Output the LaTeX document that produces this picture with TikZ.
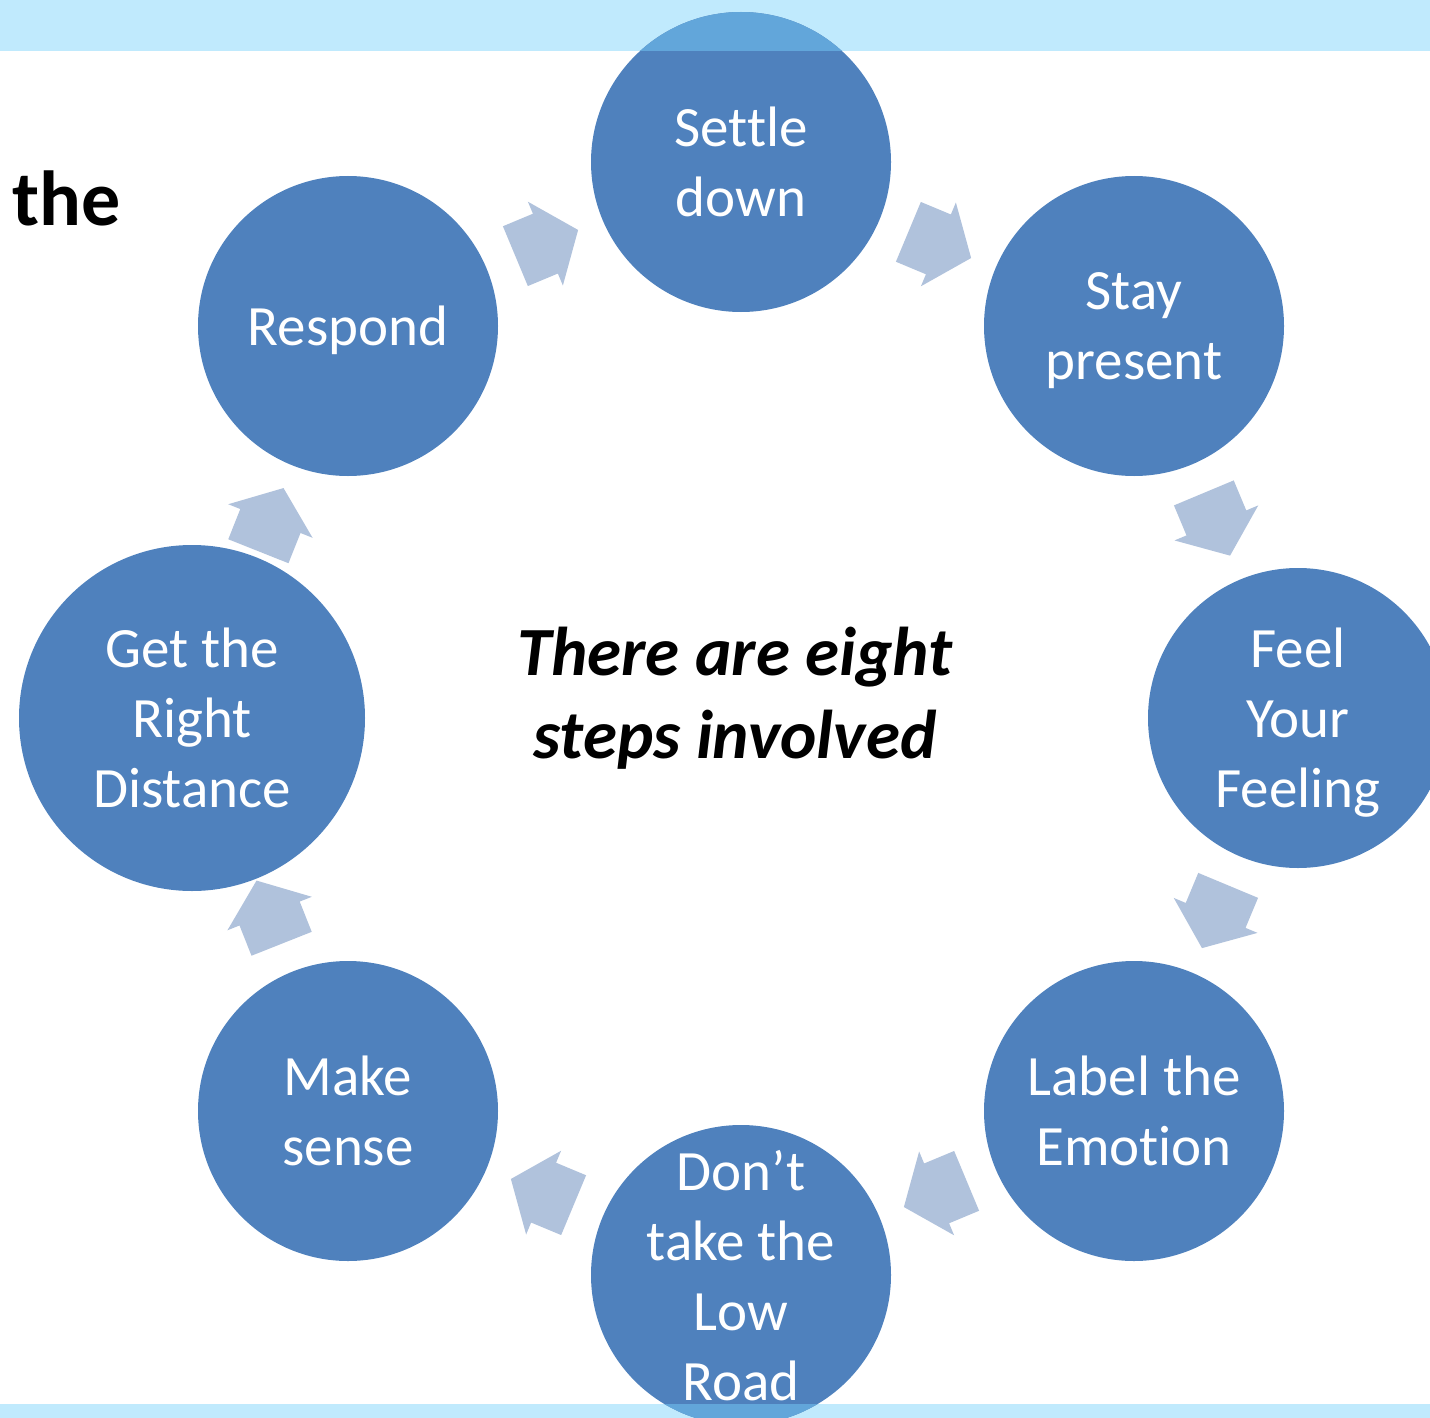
\documentclass[tikz,border=0pt]{standalone}
\usepackage{fontspec}
\setmainfont{Carlito}[Ligatures=NoCommon]
\usetikzlibrary{shapes.arrows}
\definecolor{stepblue}{HTML}{4F81BD}
\definecolor{bandblue}{HTML}{C0EAFD}
\definecolor{bandover}{HTML}{62A6DA}
\definecolor{arrowblue}{HTML}{B0C2DC}

\begin{document}
\begin{tikzpicture}[x=0.5pt,y=-0.5pt,
  stepcircle/.style={circle, fill=stepblue, minimum size=150pt, inner sep=0pt},
  steptext/.style={text=white, align=center, text depth=0pt, font=\fontsize{28.5}{35}\selectfont},
  cyclearrow/.style={single arrow, fill=arrowblue, minimum height=34pt,
    inner xsep=0pt, inner ysep=16pt, single arrow head extend=6.5pt,
    single arrow tip angle=104, sloped, allow upside down, pos=0.476}]
  \useasboundingbox (0,0) rectangle (1430,1418);
  \clip (0,0) rectangle (1430,1418);

  % light bands at top and bottom
  \fill[bandblue] (0,0) rectangle (1430,51);
  \fill[bandblue] (0,1404) rectangle (1430,1418);

  % the eight steps
  \node[stepcircle] (settle) at (741,162) {};
  \node[stepcircle] (stay) at (1134,326) {};
  \node[stepcircle] (feel) at (1298,718) {};
  \node[stepcircle] (label) at (1134,1111) {};
  \node[stepcircle] (lowroad) at (741,1275) {};
  \node[stepcircle] (sense) at (348,1111) {};
  \node[stepcircle, minimum size=173pt] (distance) at (192,718) {};
  \node[stepcircle] (respond) at (348,326) {};

  % where the circles run under the bands
  \begin{scope}
    \clip (0,0) rectangle (1430,51) (0,1404) rectangle (1430,1418);
    \fill[bandover] (settle.center) circle[radius=75pt];
    \fill[bandover] (lowroad.center) circle[radius=75pt];
  \end{scope}

  % arrows round the cycle
  \path (settle.center) -- node[cyclearrow] {} (stay.center);
  \path (stay.center) -- node[cyclearrow] {} (feel.center);
  \path (feel.center) -- node[cyclearrow] {} (label.center);
  \path (label.center) -- node[cyclearrow] {} (lowroad.center);
  \path (lowroad.center) -- node[cyclearrow] {} (sense.center);
  \path (sense.center) -- node[cyclearrow] {} (distance.center);
  \path (distance.center) -- node[cyclearrow] {} (respond.center);
  \path (respond.center) -- node[cyclearrow] {} (settle.center);

  % texts
  \node[steptext] at (settle) {Settle\\down};
  \node[steptext] at (stay) {Stay\\present};
  \node[steptext] at (feel) {Feel\\Your\\Feeling};
  \node[steptext] at (label) {Label the\\Emotion};
  \node[steptext] at (lowroad) {Don’t\\take the\\Low\\Road};
  \node[steptext] at (sense) {Make\\sense};
  \node[steptext] at (distance) {Get the\\Right\\Distance};
  \node[steptext] at (respond) {Respond};

  \node[align=center, text depth=0pt, font=\fontsize{34.5}{41.5}\selectfont\bfseries\itshape] (caption) at (735,693) {There are eight\\steps involved};
  \node[anchor=base west, inner sep=0pt, font=\fontsize{39}{47}\selectfont\bfseries] (the) at (12,225) {the};
\end{tikzpicture}
\end{document}
